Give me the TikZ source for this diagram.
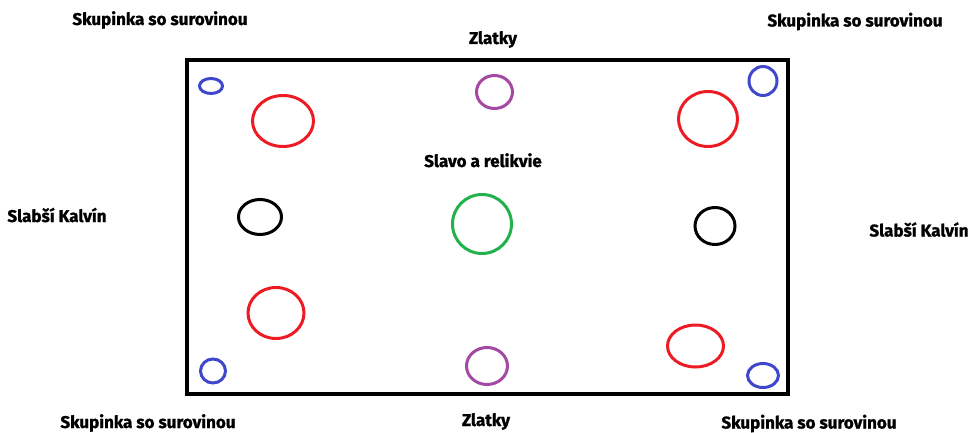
\documentclass[tikz,border=0pt]{standalone}
\usepackage{fontspec}
\setmainfont{Fira Sans}[FakeBold=1.2]
\usetikzlibrary{shapes.geometric}

\definecolor{paintred}{RGB}{237,28,36}
\definecolor{paintblue}{RGB}{63,72,204}
\definecolor{paintpurple}{RGB}{163,73,164}
\definecolor{paintgreen}{RGB}{34,177,76}

\begin{document}
\begin{tikzpicture}[x=1pt, y=-1pt, ring/.style = {draw, ellipse, line width=3pt, inner sep=0pt}, tag/.style = {anchor=base, inner sep=0pt, font=\fontsize{17}{20}\selectfont\bfseries}]
    \useasboundingbox (0,0) rectangle (972,433);
    \clip (0,0) rectangle (972,433);
    % board
    \draw[line width=4.5pt] (187,60) rectangle (788,394);
    % groups with resources in the corners
    \node[ring, paintblue, minimum width=23pt, minimum height=15pt] (blueTL) at (211,86) {};
    \node[ring, paintblue, minimum width=28pt, minimum height=29pt] (blueTR) at (763,81) {};
    \node[ring, paintblue, minimum width=25pt, minimum height=24pt] (blueBL) at (213,371) {};
    \node[ring, paintblue, minimum width=31pt, minimum height=24pt] (blueBR) at (763,375.5) {};
    \node[ring, paintred, minimum width=61pt, minimum height=51pt] (redTL) at (283,121) {};
    \node[ring, paintred, minimum width=59pt, minimum height=55pt] (redTR) at (708,119) {};
    \node[ring, paintred, minimum width=56pt, minimum height=51pt] (redBL) at (276,313) {};
    \node[ring, paintred, minimum width=56pt, minimum height=42pt] (redBR) at (695.5,346) {};
    % gold
    \node[ring, paintpurple, minimum width=36pt, minimum height=33pt] (goldT) at (494.5,92) {};
    \node[ring, paintpurple, minimum width=41pt, minimum height=37pt] (goldB) at (487,366) {};
    % weaker Calvin
    \node[ring, black, minimum width=43pt, minimum height=35pt] (calvinL) at (260,217) {};
    \node[ring, black, minimum width=40pt, minimum height=37pt] (calvinR) at (715,226) {};
    % glory and relics
    \node[ring, paintgreen, minimum width=59pt, minimum height=59pt] (glory) at (482,224) {};
    % labels
    \node[tag] (groupTL) at (160,25) {Skupinka so surovinou};
    \node[tag] (groupTR) at (855,26.5) {Skupinka so surovinou};
    \node[tag] (groupBL) at (148,428) {Skupinka so surovinou};
    \node[tag] (groupBR) at (809,428.5) {Skupinka so surovinou};
    \node[tag] (goldTtext) at (493,44) {Zlatky};
    \node[tag] (goldBtext) at (486,426) {Zlatky};
    \node[tag] (glorytext) at (483,167) {Slavo a relikvie};
    \node[tag] (calvinLtext) at (57,222) {Slabší Kalvín};
    \node[tag] (calvinRtext) at (919,236.5) {Slabší Kalvín};
\end{tikzpicture}
\end{document}
